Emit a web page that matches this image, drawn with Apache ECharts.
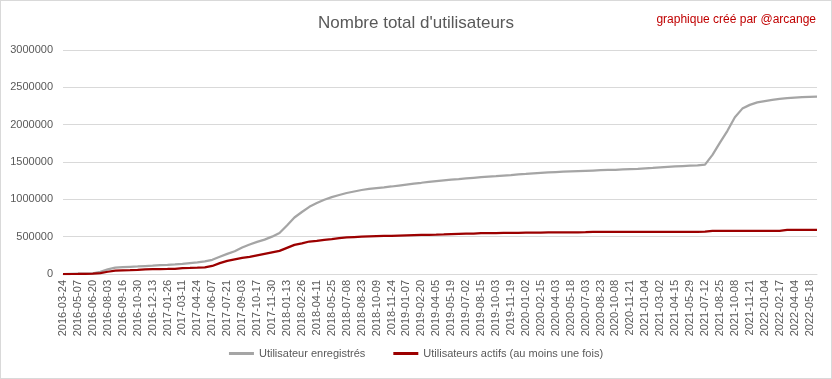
<!DOCTYPE html>
<html>
<head>
<meta charset="utf-8">
<script src="https://cdn.jsdelivr.net/npm/echarts@6/dist/echarts.min.js"></script>
<style>
html,body{margin:0;padding:0;background:#fff;}
#c{width:832px;height:379px;box-sizing:border-box;border:1px solid #d9d9d9;}
</style>
</head>
<body>
<div id="c"></div>
<script>
// Tick labels (every other category carries a label; in-between categories are half-steps)
const tickLabels = ["2016-03-24","2016-05-07","2016-06-20","2016-08-03","2016-09-16","2016-10-30","2016-12-13",
"2017-01-26","2017-03-11","2017-04-24","2017-06-07","2017-07-21","2017-09-03","2017-10-17","2017-11-30",
"2018-01-13","2018-02-26","2018-04-11","2018-05-25","2018-07-08","2018-08-23","2018-10-09","2018-11-24",
"2019-01-07","2019-02-20","2019-04-05","2019-05-19","2019-07-02","2019-08-15","2019-10-03","2019-11-19",
"2020-01-02","2020-02-15","2020-04-03","2020-05-18","2020-07-03","2020-08-23","2020-10-08","2020-11-21",
"2021-01-04","2021-03-02","2021-04-15","2021-05-29","2021-07-12","2021-08-25","2021-10-08","2021-11-21",
"2022-01-04","2022-02-17","2022-04-04","2022-05-18"];

const registered = [0,2000,4000,6000,10000,30000,62000,85000,92000,97000,
101000,106000,111000,118000,122000,128000,135000,145000,155000,168000,
190000,230000,270000,305000,355000,395000,430000,460000,500000,550000,
650000,757000,830000,900000,950000,995000,1030000,1058000,1085000,1105000,
1125000,1140000,1150000,1160000,1172000,1185000,1198000,1211000,1222000,1234000,
1245000,1255000,1265000,1272000,1280000,1288000,1296000,1303000,1310000,1318000,
1325000,1333000,1340000,1348000,1355000,1360000,1365000,1370000,1374000,1378000,
1382000,1386000,1390000,1393000,1396000,1400000,1404000,1408000,1414000,1420000,
1427000,1434000,1440000,1446000,1451000,1456000,1465000,1595000,1760000,1918000,
2100000,2215000,2265000,2298000,2316000,2331000,2345000,2355000,2362000,2368000,
2372000,2375000];

const active = [0,0,1000,3000,6000,13000,30000,45000,49000,51000,
54000,63000,65000,66000,67000,69000,79000,81000,84000,90000,
108000,145000,175000,195000,215000,230000,250000,270000,290000,310000,
350000,390000,410000,435000,445000,458000,468000,480000,490000,495000,
500000,503000,506000,509000,512000,515000,518000,521000,523000,525000,
527000,530000,535000,538000,540000,542000,546000,548000,549000,550000,
551000,552000,553000,554000,555000,556000,557000,558000,558000,559000,
560000,565000,565000,565000,565000,565000,565000,565000,565000,565000,
565000,565000,565000,565000,565000,565000,566000,578000,578000,578000,
578000,578000,578000,578000,578000,578000,579000,590000,590000,591000,
592000,592000];

const categories = [];
tickLabels.forEach(l => { categories.push(l); categories.push(""); });

const chart = echarts.init(document.getElementById('c'));
const txt = '#595959';
chart.setOption({
  animation: false,
  title: [{
    text: "Nombre total d'utilisateurs",
    left: 'center', top: 9,
    textStyle: {fontFamily: 'Liberation Sans', fontSize: 17, fontWeight: 'normal', color: txt}
  },{
    text: 'graphique créé par @arcange',
    right: 10, top: 8,
    textStyle: {fontFamily: 'Liberation Sans', fontSize: 12, fontWeight: 'normal', color: '#c00000'}
  }],
  grid: {left: 62, right: 14, top: 49, bottom: 104, containLabel: false},
  legend: {
    bottom: 14, left: 'center', itemGap: 28, itemWidth: 25, itemHeight: 3,
    icon: 'rect',
    textStyle: {fontFamily: 'Liberation Sans', fontSize: 11, color: txt},
    data: ['Utilisateur enregistrés', 'Utilisateurs actifs (au moins une fois)']
  },
  xAxis: {
    type: 'category', data: categories, boundaryGap: false,
    axisLine: {lineStyle: {color: '#d9d9d9', width: 1}},
    axisTick: {show: false},
    axisLabel: {
      interval: (i) => i % 2 === 0,
      rotate: 90, color: txt, fontFamily: 'Liberation Sans', fontSize: 11, margin: 6
    },
    splitLine: {show: false}
  },
  yAxis: {
    type: 'value', min: 0, max: 3000000, interval: 500000,
    axisLine: {show: false}, axisTick: {show: false},
    axisLabel: {color: txt, fontFamily: 'Liberation Sans', fontSize: 11, margin: 10,
      formatter: (v) => String(v)},
    splitLine: {lineStyle: {color: '#d9d9d9', width: 1}}
  },
  series: [{
    name: 'Utilisateur enregistrés', type: 'line', data: registered,
    symbol: 'none', lineStyle: {color: '#a5a5a5', width: 2.25}, itemStyle: {color: '#a5a5a5'}
  },{
    name: 'Utilisateurs actifs (au moins une fois)', type: 'line', data: active,
    symbol: 'none', lineStyle: {color: '#9c0000', width: 2.25}, itemStyle: {color: '#9c0000'}
  }]
});
</script>
</body>
</html>
